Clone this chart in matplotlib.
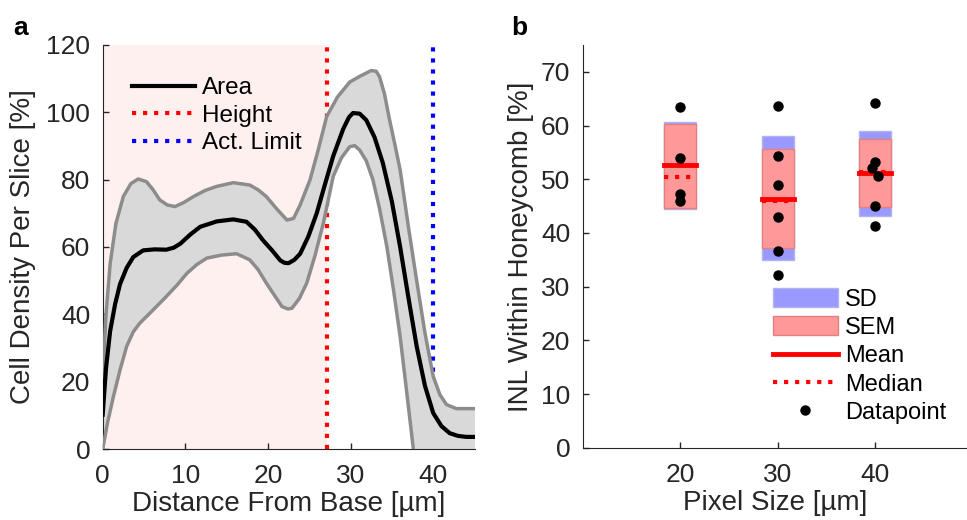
import numpy as np
import matplotlib
matplotlib.use("Agg")
import matplotlib.pyplot as plt
from matplotlib.patches import Patch
from matplotlib.lines import Line2D

plt.rcParams['font.family'] = ['Liberation Sans', 'DejaVu Sans']
plt.rcParams['font.size'] = 19

# ---- panel a data ----
mean_x = [0, 0.4, 0.9, 1.5, 2.1, 2.9, 3.7, 4.9, 6.3, 7.7, 8.6, 9.4, 10.6, 11.8, 13.8, 15.8, 17.4, 18.4, 19.4,
          20.5, 21.5, 22.0, 22.5, 23.2, 23.9, 24.9, 25.9, 26.9, 27.9, 29.1, 29.8, 30.3, 31.1, 31.9, 32.9, 33.9,
          35.0, 36.0, 37.0, 38.0, 39.0, 40.0, 41.0, 42.0, 43.0, 44.0, 45.0]
mean_y = [10.2, 24, 35, 43, 49, 53.8, 57, 59, 59.3, 59.2, 59.8, 61, 63.7, 66, 67.6, 68.2, 67.5, 65.2, 62,
          59, 56, 55.3, 55.2, 56.2, 58, 63.2, 70, 78.6, 87, 95, 98.5, 99.8, 99.6, 97.7, 92.6, 85,
          73.5, 60, 45, 30.5, 18.8, 10.7, 6.8, 4.7, 3.9, 3.6, 3.6]

up_x = [0, 0.4, 0.9, 1.6, 2.5, 3.4, 4.3, 5.3, 6.1, 6.9, 7.8, 8.75, 9.8, 11, 12.4, 13.8, 15.8, 17.8, 18.8,
        19.8, 21.0, 22.3, 23.1, 23.9, 25.1, 26.1, 27.1, 28.4, 29.9, 31.2, 32.5, 33.1, 33.5, 34.1, 34.7,
        35.4, 36.0, 37.0, 38.0, 39.0, 40.0, 40.8, 41.6, 42.8, 45.0]
up_y = [21, 40, 55, 67, 75, 78.8, 80.2, 79.4, 77, 74, 72.5, 72, 73.2, 75, 76.8, 78, 79.1, 78.4, 77,
        75, 71.5, 68, 68.5, 72.5, 80, 89, 98.7, 104.5, 109, 110.8, 112.4, 112.2, 110.6, 105.5, 98,
        90, 82.9, 66, 50, 34.5, 21.6, 16.2, 13.2, 12, 12]

lo_x = [0, 0.6, 1.3, 2.1, 2.9, 3.7, 4.5, 6.1, 7.7, 9.0, 10.2, 11.4, 12.6, 14.4, 16.2, 17.8, 18.8, 19.8,
        20.8, 21.7, 22.4, 22.9, 23.8, 24.7, 25.7, 26.7, 27.9, 28.9, 29.9, 30.5, 31.1, 31.9, 32.7, 33.5,
        34.4, 35.2, 36.0, 36.8, 37.6, 38.5, 40.0, 42.0, 45.0]
lo_y = [0, 8, 15.6, 23.5, 30.5, 34.8, 37.4, 41.3, 45.3, 48.7, 52.2, 54.8, 56.7, 57.6, 58, 56.2, 53.3, 49.3,
        45.6, 42.3, 41.6, 41.8, 44.7, 49.3, 57.5, 67, 81, 86.5, 89.8, 90.1, 88.8, 85.6, 80, 71.5,
        60, 47.2, 33.4, 16.8, 0, -8, -14, -10, -5]

height_x = 27.1
limit_x = 40
shade_range = [0, 27.1]

# ---- panel b data ----
pix = [20, 30, 40]
sd_lo = [44.4, 34.9, 43.1]
sd_hi = [60.6, 58.1, 59.0]
sem_lo = [44.7, 37.1, 44.8]
sem_hi = [60.3, 55.7, 57.4]
means = [52.6, 46.4, 51.1]
medians = [50.5, 45.9, 51.4]
pts = [[63.4, 53.9, 47.2, 45.9],
       [63.6, 54.4, 48.9, 43.0, 36.7, 32.2],
       [64.2, 53.3, 52.1, 50.6, 45.0, 41.3]]
pts_dx = [[0, 0, 0, 0],
          [0, 0, 0, 0, 0, 0],
          [0, 0, -0.3, 0.25, 0, 0]]

fig = plt.figure(figsize=(9.67, 5.2), dpi=100)
txt = '#262626'

# ================= panel a =================
ax = fig.add_axes([0.1062, 0.1365, 0.3845, 0.777])
ax.axvspan(shade_range[0], shade_range[1], color='#fff0f0', zorder=0, lw=0)
ax.axvline(height_x, color='red', ls=':', lw=3, zorder=1)
ax.axvline(limit_x, color='blue', ls=':', lw=3, zorder=1)

xx = np.union1d(np.union1d(up_x, lo_x), mean_x)
upper_i = np.interp(xx, up_x, up_y)
lower_i = np.interp(xx, lo_x, lo_y)
ax.fill_between(xx, lower_i, upper_i, color='#d9d9d9', lw=0, zorder=2)
ax.plot(up_x, up_y, color='#8c8c8c', lw=2.5, zorder=3, solid_joinstyle='round')
ax.plot(lo_x, lo_y, color='#8c8c8c', lw=2.5, zorder=3, solid_joinstyle='round')
ax.plot(mean_x, mean_y, color='black', lw=3, zorder=4, solid_joinstyle='round')

ax.set_xlim(0, 45)
ax.set_ylim(0, 120)
ax.set_xticks([0, 10, 20, 30, 40])
ax.set_yticks([0, 20, 40, 60, 80, 100, 120])
ax.spines['top'].set_visible(False)
ax.spines['right'].set_visible(False)
for s in ax.spines.values():
    s.set_color(txt)
ax.tick_params(direction='in', length=4, width=1, color=txt, labelcolor=txt)
ax.tick_params(axis='y', pad=9)
ax.tick_params(axis='x', pad=11)
ax.set_xlabel('Distance From Base [µm]', color=txt, fontsize=20, labelpad=2)
ax.set_ylabel('Cell Density Per Slice [%]', color=txt, fontsize=20, labelpad=7)

handles_a = [Line2D([], [], color='black', lw=3),
             Line2D([], [], color='red', ls=':', lw=3),
             Line2D([], [], color='blue', ls=':', lw=3)]
ax.legend(handles_a, ['Area', 'Height', 'Act. Limit'], loc='upper left',
          bbox_to_anchor=(0.078, 0.92), frameon=False, borderpad=0, borderaxespad=0,
          handlelength=2.6, handletextpad=0.3, labelspacing=0.22, fontsize=17.5)

fig.text(0.0135, 0.933, 'a', fontsize=19, fontweight='bold')

# ================= panel b =================
bx = fig.add_axes([0.6026, 0.139, 0.3971, 0.7745])
w = 3.3
for i, p in enumerate(pix):
    bx.bar(p, sd_hi[i] - sd_lo[i], bottom=sd_lo[i], width=w, color='#9999ff',
           edgecolor='#b3b3f0', lw=1, zorder=1)
    bx.bar(p, sem_hi[i] - sem_lo[i], bottom=sem_lo[i], width=w, color='#ff9999',
           edgecolor='#e68080', lw=1, zorder=2)
    bx.plot([p - w / 2, p + w / 2], [medians[i], medians[i]], color='red', ls=':', lw=3, zorder=3)
    bx.plot([p - w / 2, p + w / 2], [means[i], means[i]], color='red', lw=3.5, zorder=4)
    bx.plot(np.array(pts_dx[i]) + p, pts[i], 'o', color='black', ms=6.5, zorder=5)

bx.set_xlim(10, 49.4)
bx.set_ylim(0, 75)
bx.set_xticks(pix)
bx.set_yticks(np.arange(0, 80, 10))
bx.spines['top'].set_visible(False)
bx.spines['right'].set_visible(False)
for s in bx.spines.values():
    s.set_color(txt)
bx.tick_params(direction='in', length=4, width=1, color=txt, labelcolor=txt)
bx.tick_params(axis='y', pad=9)
bx.tick_params(axis='x', pad=11)
bx.set_xlabel('Pixel Size [µm]', color=txt, fontsize=20, labelpad=2)
bx.set_ylabel('INL Within Honeycomb [%]', color=txt, fontsize=20, labelpad=5)

handles_b = [Patch(facecolor='#9999ff', edgecolor='#b3b3f0'),
             Patch(facecolor='#ff9999', edgecolor='#e68080'),
             Line2D([], [], color='red', lw=3.5),
             Line2D([], [], color='red', ls=':', lw=3),
             Line2D([], [], color='black', marker='o', ls='none', ms=6.5)]
bx.legend(handles_b, ['SD', 'SEM', 'Mean', 'Median', 'Datapoint'], loc='upper left',
          bbox_to_anchor=(0.4956, 0.396), frameon=False, borderpad=0, borderaxespad=0,
          handlelength=2.75, handleheight=0.85, handletextpad=0.3, labelspacing=0.24, fontsize=17)

fig.text(0.529, 0.933, 'b', fontsize=19, fontweight='bold')

fig.savefig('out.png', dpi=100)
